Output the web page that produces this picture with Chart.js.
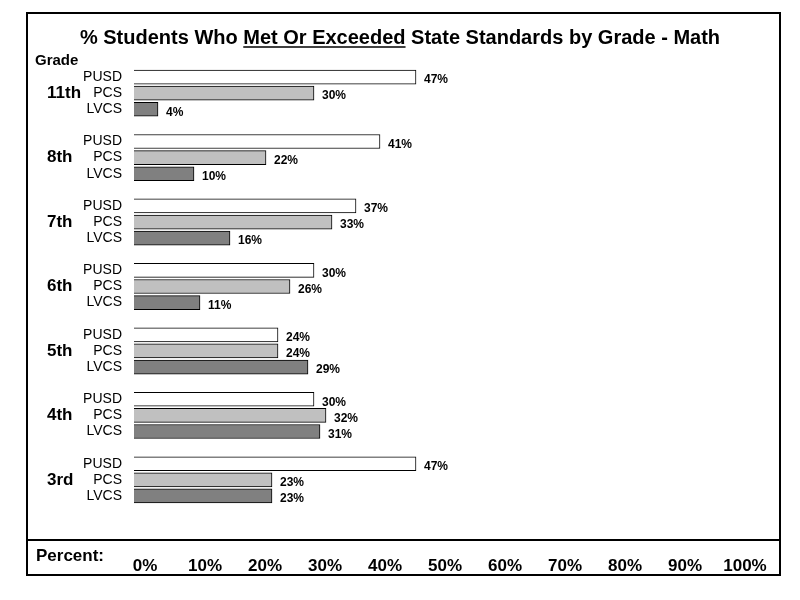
<!DOCTYPE html>
<html><head><meta charset="utf-8">
<script src="https://cdn.jsdelivr.net/npm/chart.js@4/dist/chart.umd.min.js"></script>
<style>html,body{margin:0;background:#fff}#wrap{width:800px;height:600px}</style>
</head><body><div id="wrap"><canvas id="c" width="800" height="600"></canvas></div>
<script>
// Grades top to bottom, schools within each grade
const grades = ['11th', '8th', '7th', '6th', '5th', '4th', '3rd'];
const schools = ['PUSD', 'PCS', 'LVCS'];
const pusd = [47, 41, 37, 30, 24, 30, 47];
const pcs = [30, 22, 33, 26, 24, 32, 23];
const lvcs = [4, 10, 16, 11, 29, 31, 23];
const tickLabels = ['0%', '10%', '20%', '30%', '40%', '50%', '60%', '70%', '80%', '90%', '100%'];
const schoolColors = ['#ffffff', '#c0c0c0', '#808080'];

// one row per school, blank row between grades
const labels = [], values = [], colors = [];
grades.forEach((g, i) => {
    [pusd[i], pcs[i], lvcs[i]].forEach((v, j) => {
        labels.push(schools[j]); values.push(v); colors.push(schoolColors[j]);
    });
    if (i < grades.length - 1) { labels.push(''); values.push(null); colors.push('#fff'); }
});

const FONT = 'Arial, "Liberation Sans", sans-serif';

const decor = {
    id: 'decor',
    afterDraw(chart) {
        const ctx = chart.ctx, y = chart.scales.y, x = chart.scales.x;
        ctx.save();
        // frame
        ctx.strokeStyle = '#000'; ctx.lineWidth = 2;
        ctx.strokeRect(27, 13, 753, 562);
        ctx.beginPath(); ctx.moveTo(27, 540); ctx.lineTo(780, 540); ctx.stroke();
        // title with underlined part
        ctx.fillStyle = '#000'; ctx.font = 'bold 20px ' + FONT; ctx.textBaseline = 'alphabetic';
        const parts = ['% Students Who ', 'Met Or Exceeded', ' State Standards by Grade - Math'];
        const total = parts.reduce((s, p) => s + ctx.measureText(p).width, 0);
        let tx = 400 - total / 2;
        parts.forEach((p, i) => {
            const w = ctx.measureText(p).width;
            ctx.fillText(p, tx, 44);
            if (i === 1) { ctx.lineWidth = 1.5; ctx.beginPath(); ctx.moveTo(tx, 47); ctx.lineTo(tx + w, 47); ctx.stroke(); }
            tx += w;
        });
        // grade labels
        ctx.font = 'bold 15px ' + FONT; ctx.textBaseline = 'middle';
        ctx.fillText('Grade', 35, 61);
        ctx.font = 'bold 17px ' + FONT;
        grades.forEach((g, i) => {
            ctx.fillText(g, 47, y.getPixelForValue(i * 4 + 1));
        });
        ctx.font = 'bold 17px ' + FONT;
        ctx.fillText('Percent:', 36, 556);
        // value labels
        ctx.font = 'bold 12px ' + FONT;
        const meta = chart.getDatasetMeta(0);
        values.forEach((v, i) => {
            if (v === null) return;
            const bar = meta.data[i];
            ctx.fillText(v + '%', bar.x + 8, bar.y + 3);
        });
        ctx.restore();
    }
};

new Chart(document.getElementById('c'), {
    type: 'bar',
    data: {
        labels: labels,
        datasets: [{
            data: values,
            backgroundColor: colors,
            borderColor: '#000',
            borderWidth: 1,
            barThickness: 14
        }]
    },
    options: {
        indexAxis: 'y',
        responsive: false,
        animation: false,
        layout: { padding: { left: 27, right: 66, top: 69, bottom: 0 } },
        plugins: { legend: { display: false }, tooltip: { enabled: false } },
        scales: {
            y: {
                grid: { display: false },
                border: { display: false },
                ticks: { color: '#000', font: { family: FONT, size: 14 }, autoSkip: false, padding: 4 },
                afterFit(s) { s.width = 107; }
            },
            x: {
                min: 0, max: 100,
                grid: { display: false },
                border: { display: false },
                ticks: {
                    stepSize: 10,
                    color: '#000',
                    font: { family: FONT, size: 17, weight: 'bold' },
                    padding: 44,
                    labelOffset: 11,
                    maxRotation: 0,
                    callback: (v, i) => tickLabels[i]
                },
                afterFit(s) { s.height = 96; }
            }
        }
    },
    plugins: [decor]
});
</script></body></html>
